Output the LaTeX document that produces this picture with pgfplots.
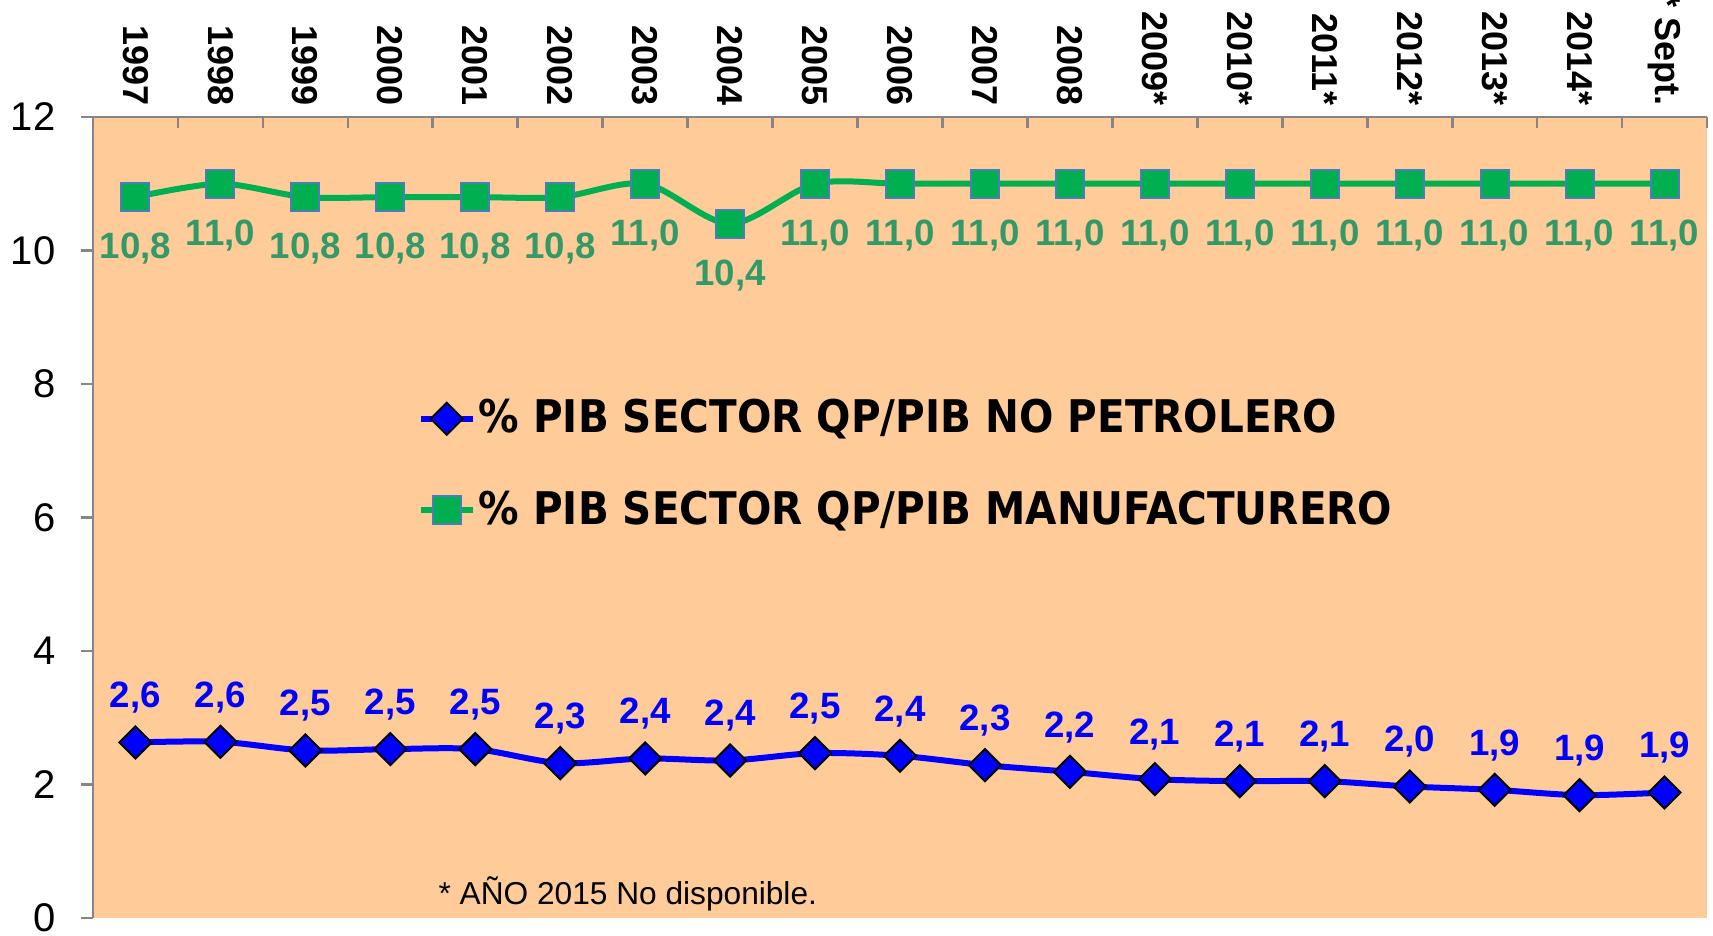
\documentclass[border=0pt]{standalone}
\usepackage{fontspec}
\setmainfont{Liberation Sans}
\newfontfamily\legfont{DejaVu Sans Condensed}
\usepackage{pgfplots}
\usepackage{pgfplotstable}
\pgfplotsset{compat=1.18}
\definecolor{bgorange}{HTML}{FFCC99}
\definecolor{qgreen}{HTML}{00B050}
\definecolor{lblgreen}{HTML}{339966}
\definecolor{qblue}{HTML}{0000FF}
\definecolor{sqborder}{HTML}{4A7EBB}
\definecolor{axgray}{HTML}{868686}

\pgfplotstableread{
x y label
0 2.63 2,6
1 2.64 2,6
2 2.51 2,5
3 2.53 2,5
4 2.53 2,5
5 2.32 2,3
6 2.39 2,4
7 2.36 2,4
8 2.47 2,5
9 2.43 2,4
10 2.29 2,3
11 2.19 2,2
12 2.08 2,1
13 2.05 2,1
14 2.05 2,1
15 1.97 2,0
16 1.92 1,9
17 1.84 1,9
18 1.88 1,9
}\bluedata

\pgfplotstableread{
x y label
0 10.8 10,8
1 11.0 11,0
2 10.8 10,8
3 10.8 10,8
4 10.8 10,8
5 10.8 10,8
6 11.0 11,0
7 10.4 10,4
8 11.0 11,0
9 11.0 11,0
10 11.0 11,0
11 11.0 11,0
12 11.0 11,0
13 11.0 11,0
14 11.0 11,0
15 11.0 11,0
16 11.0 11,0
17 11.0 11,0
18 11.0 11,0
}\greendata

\begin{document}
\begin{tikzpicture}
\begin{axis}[
  scale only axis,
  width=484.2pt, height=240.3pt,
  xmin=-0.5, xmax=18.5, ymin=0, ymax=12,
  axis background/.style={fill=bgorange},
  axis line style={draw=none},
  clip=false,
  /pgf/number format/assume math mode=true,
  ytick={0,2,...,12},
  ytick pos=left,
  ytick align=outside,
  major tick length=3.6pt,
  tick style={axgray, line width=0.8pt},
  yticklabel style={font=\fontsize{12}{12}\selectfont, inner sep=0pt, xshift=-7.5pt},
  xtick={0,...,18},
  xticklabels={1997,1998,1999,2000,2001,2002,2003,2004,2005,2006,2007,2008,2009*,2010*,2011*,2012*,2013*,2014*,{* Sept.}},
  xtick pos=right,
  xticklabel pos=right,
  major x tick style={draw=none},
  minor xtick={-0.5,0.5,...,18.5},
  minor tick length=3.3pt,
  xtick align=inside,
  minor x tick style={axgray, line width=0.8pt},
  xticklabel style={rotate=-90, anchor=east, font=\bfseries\fontsize{10.8}{12}\selectfont},
  legend cell align=left,
  legend image code/.code={
    \draw[mark repeat=2, mark phase=2, #1] plot coordinates {(0pt,0pt) (7.7pt,0pt) (15.4pt,0pt)};
  },
  legend style={
    at={(rel axis cs:0.201,0.566)}, anchor=west,
    draw=none, fill=none, inner sep=0pt,
    row sep=14pt,
    font=\legfont\bfseries\fontsize{13.5}{15}\selectfont,
    nodes={inner sep=1pt},
  },
]
\addplot[qblue, line width=1.8pt, smooth,
  mark=square*, mark size=3.4pt,
  mark options={rotate=45, fill=qblue, draw=black, line width=0.6pt, solid},
  nodes near coords, point meta=explicit symbolic,
  every node near coord/.append style={anchor=center, yshift=13.4pt, text=qblue, font=\bfseries\fontsize{11}{12}\selectfont}]
  table[x=x, y=y, meta=label] {\bluedata};
\addlegendentry{\% PIB SECTOR QP/PIB NO PETROLERO}
\addplot[qgreen, line width=1.8pt, smooth,
  mark=square*, mark size=4.2pt,
  mark options={fill=qgreen, draw=sqborder, line width=0.6pt, solid},
  nodes near coords, point meta=explicit symbolic,
  every node near coord/.append style={anchor=center, yshift=-15.4pt, text=lblgreen, font=\bfseries\fontsize{11}{12}\selectfont}]
  table[x=x, y=y, meta=label] {\greendata};
\addlegendentry{\% PIB SECTOR QP/PIB MANUFACTURERO}
\draw[axgray, line width=0.8pt] (rel axis cs:0,0) -- (rel axis cs:0,1) -- (rel axis cs:1,1);
\node[anchor=west, inner sep=0pt, font=\fontsize{9.5}{11}\selectfont] at (axis cs:3.56,0.36) {* AÑO 2015 No disponible.};
\coordinate (sw) at (rel axis cs:0,0);
\coordinate (ne) at (rel axis cs:1,1);
\end{axis}
\pgfresetboundingbox
\path ([shift={(-27.9pt,-5.4pt)}]sw) rectangle ([shift={(1.8pt,35.1pt)}]ne);
\end{tikzpicture}
\end{document}
